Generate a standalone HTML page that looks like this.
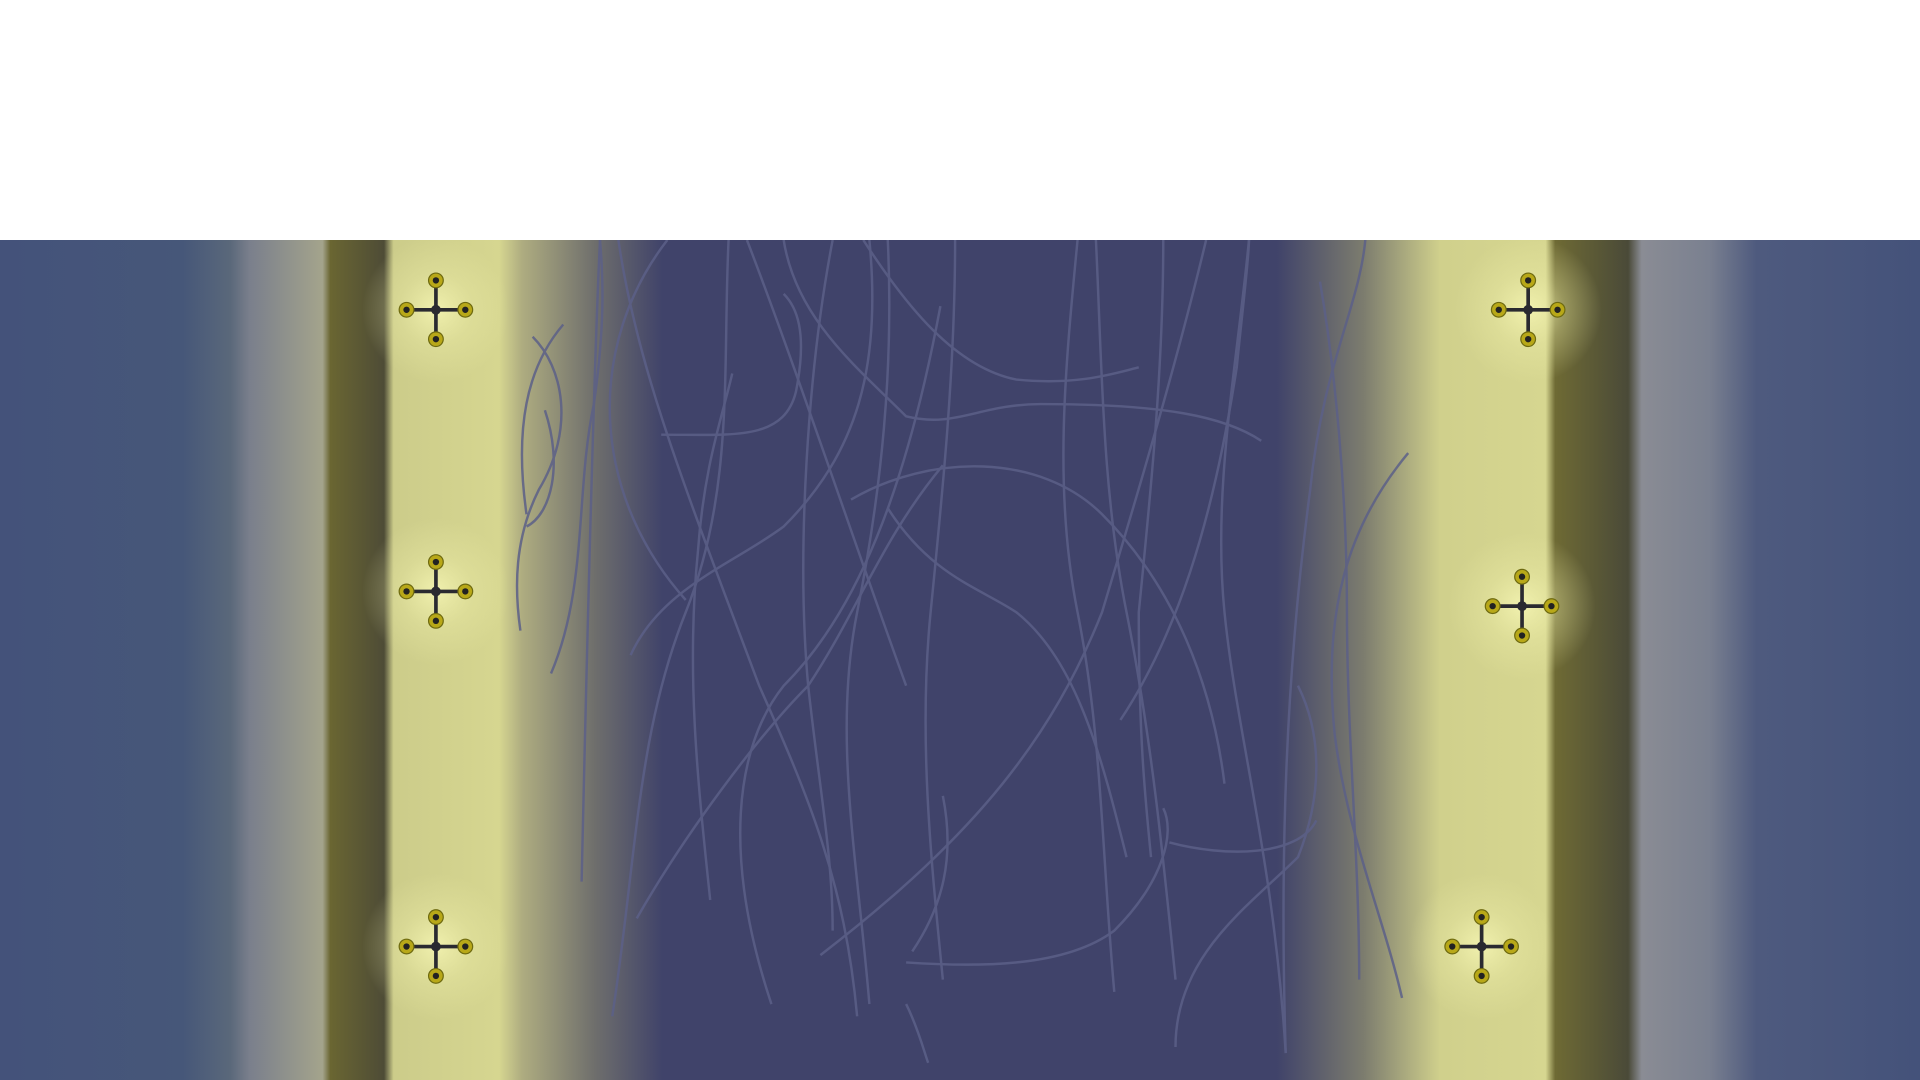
<!DOCTYPE html>
<html><head><meta charset="utf-8"><style>
html,body{margin:0;padding:0;background:#fff;width:1920px;height:1080px;overflow:hidden}
svg{position:absolute;left:0;top:240px}
</style></head><body>
<svg width="1920" height="840" viewBox="0 196 1568 686" preserveAspectRatio="none">
<defs>
<linearGradient id="bands" x1="0" x2="1" y1="0" y2="0">
<stop offset="0" stop-color="#44527a"/><stop offset="0.095" stop-color="#465779"/>
<stop offset="0.12" stop-color="#5a687a"/><stop offset="0.13" stop-color="#7a7f8c"/>
<stop offset="0.168" stop-color="#a4a48c"/><stop offset="0.172" stop-color="#6a6632"/>
<stop offset="0.2" stop-color="#4e4c36"/><stop offset="0.205" stop-color="#cccc8a"/>
<stop offset="0.26" stop-color="#d6d690"/><stop offset="0.272" stop-color="#aeac80"/>
<stop offset="0.31" stop-color="#6e6e6c"/><stop offset="0.345" stop-color="#40436a"/>
<stop offset="0.665" stop-color="#40436a"/><stop offset="0.71" stop-color="#7c7c6e"/>
<stop offset="0.75" stop-color="#d0d08c"/><stop offset="0.805" stop-color="#d6d690"/>
<stop offset="0.81" stop-color="#6e6a34"/><stop offset="0.848" stop-color="#4a4a38"/>
<stop offset="0.855" stop-color="#8a8c94"/><stop offset="0.89" stop-color="#7a8090"/>
<stop offset="0.915" stop-color="#4e5a7e"/><stop offset="1" stop-color="#44527a"/>
</linearGradient>
<radialGradient id="glow"><stop offset="0" stop-color="#f6f6b4" stop-opacity="0.85"/><stop offset="0.5" stop-color="#eeeea8" stop-opacity="0.35"/><stop offset="1" stop-color="#eeeea8" stop-opacity="0"/></radialGradient>
</defs>
<rect x="0" y="196" width="1568" height="686" fill="url(#bands)"/>
<g id="trails" fill="none" stroke="#5c6088" stroke-width="2" opacity="0.85"></g>
<g id="drones"></g>
</svg>
<script>
const droneX=[356,356,356,1248,1243,1210];
const droneY=[253,483,773,253,495,773];
const trailPaths=[
"M490 196 C485 300 480 500 475 720","M505 196 C520 300 560 400 620 560 C660 650 690 720 700 830",
"M545 196 C480 280 480 400 560 490","M595 196 C590 300 600 400 560 500 C520 600 520 700 500 830",
"M610 196 C650 300 700 450 740 560","M640 196 C650 260 700 300 740 340 C780 350 800 330 850 330 C950 330 1000 340 1030 360",
"M680 196 C660 300 650 450 660 560 C670 650 680 700 680 760","M705 196 C740 250 780 300 830 310 C880 315 910 305 930 300",
"M725 196 C730 300 720 400 700 500 C680 600 700 700 710 820","M780 196 C780 300 770 400 760 500 C750 600 760 700 770 800",
"M768 250 C740 400 700 500 640 560 C600 610 590 700 630 820","M540 355 C600 355 640 360 650 320 C660 270 650 250 640 240",
"M695 408 C760 370 850 370 900 420 C960 480 990 560 1000 640","M725 415 C760 470 800 480 830 500 C880 540 900 620 920 700",
"M880 196 C870 300 860 400 880 500 C900 600 900 700 910 810","M895 196 C900 300 900 400 920 500 C940 600 950 700 960 800",
"M950 196 C950 300 940 400 930 500 C930 600 935 650 940 700","M985 196 C960 300 930 400 900 500 C860 600 800 680 670 780",
"M1020 196 C1010 300 990 400 1000 500 C1010 600 1040 700 1050 860","M1078 230 C1090 300 1100 400 1100 500 C1100 600 1110 700 1110 800",
"M1150 370 C1100 430 1080 500 1090 600 C1100 680 1130 750 1145 815","M955 688 C1000 700 1060 700 1075 670",
"M740 786 C800 790 870 790 910 760 C950 720 960 680 950 660","M960 855 C960 780 1020 740 1060 700 C1080 650 1080 600 1060 560",
"M435 275 C460 300 470 350 440 400 C420 440 420 480 425 515","M445 335 C460 380 450 420 430 430","M460 265 C430 300 420 350 430 420",
"M450 550 C480 480 470 400 485 330 C495 260 492 220 490 196","M1050 860 C1045 700 1050 550 1070 400 C1080 300 1110 250 1115 196",
"M515 535 C540 480 600 460 640 430 C700 370 720 300 710 196","M915 588 C960 520 990 430 1010 300 C1015 250 1020 210 1020 196",
"M520 750 C560 680 620 600 660 560 C700 500 720 440 770 380","M580 735 C570 640 560 550 570 450 C575 380 590 340 598 305",
"M745 777 C770 740 780 700 770 650","M740 820 C750 840 755 860 758 868"];
const g=document.getElementById('trails');
for(const d of trailPaths){const p=document.createElementNS('http://www.w3.org/2000/svg','path');
p.setAttribute('d',d);


g.appendChild(p);}
const dg=document.getElementById('drones');const NS='http://www.w3.org/2000/svg';
for(let i=0;i<droneX.length;i++){const x=droneX[i],y=droneY[i];
const grp=document.createElementNS(NS,'g');


let s=`<circle cx="${x}" cy="${y}" r="60" fill="url(#glow)"/>`;
s+=`<line x1="${x-24}" y1="${y}" x2="${x+24}" y2="${y}" stroke="#2a2a30" stroke-width="3"/><line x1="${x}" y1="${y-24}" x2="${x}" y2="${y+24}" stroke="#2a2a30" stroke-width="3"/>`;
s+=`<circle cx="${x}" cy="${y}" r="4" fill="#2a2a30"/>`;
for(const [dx,dy] of [[-24,0],[24,0],[0,-24],[0,24]]){s+=`<circle cx="${x+dx}" cy="${y+dy}" r="6" fill="#b8a818" stroke="#6e6a10" stroke-width="1"/><circle cx="${x+dx}" cy="${y+dy}" r="2.6" fill="#222"/>`;}
grp.innerHTML=s;dg.appendChild(grp);}
</script>
</body></html>
